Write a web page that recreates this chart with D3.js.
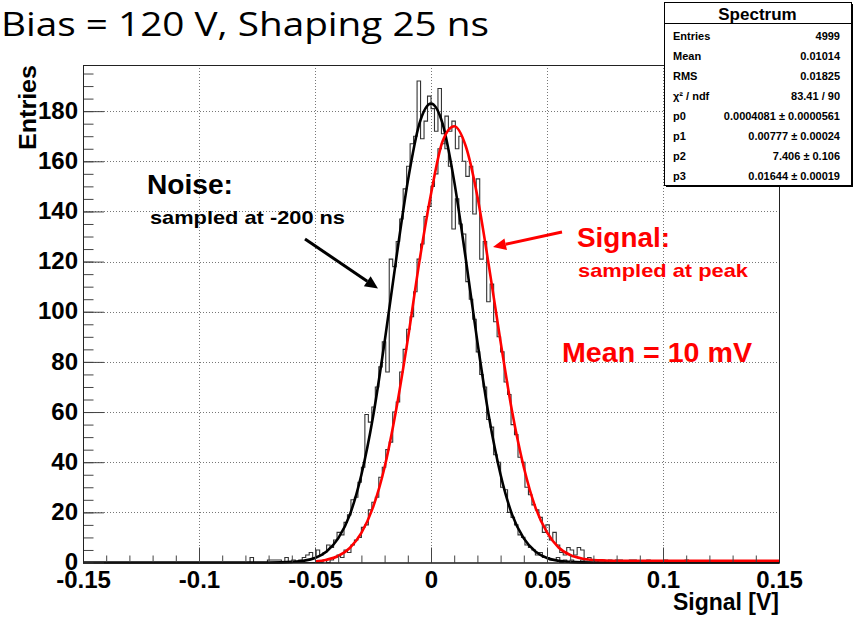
<!DOCTYPE html>
<html>
<head>
<meta charset="utf-8">
<script src="https://cdn.jsdelivr.net/npm/d3@7/dist/d3.min.js"></script>
<style>
  body { margin: 0; background: #fff; }
  svg { display: block; font-family: "Liberation Sans", Arial, sans-serif; }
</style>
</head>
<body>
<div id="chart"></div>
<script>
// binning of both histograms (200 bins over -0.15 .. 0.15)
const binLow = -0.15;
const binWidth = 0.0015;
const nBins = 200;

// noise histogram (sampled at -200 ns), counts from bin 46 on
const noiseStartBin = 46;
const noiseCounts = [
  0, 0, 2, 0,
  0, 0, 0, 1, 1, 1, 1, 0, 2, 0,
  1, 0, 1, 2, 3, 4, 2, 5, 3, 4,
  7, 6, 9, 12, 11, 16, 19, 25, 26, 32,
  38, 59, 56, 62, 70, 78, 88, 76, 121, 118,
  128, 137, 149, 158, 167, 170, 192, 169, 176, 186,
  181, 172, 189, 171, 165, 158, 133, 145, 135, 131,
  112, 105, 97, 84, 75, 70, 57, 54, 43, 40,
  30, 29, 20, 18, 15, 11, 10, 7, 6, 5,
  3, 4, 2, 2, 1, 1, 2, 0, 1, 0,
  1, 0, 0, 1, 0, 0, 0, 0, 0, 0
];

// signal histogram (sampled at peak), counts from bin 66 on
const signalStartBin = 66;
const signalCounts = [
  0, 0, 0, 1, 0,
  1, 2, 3, 2, 5, 4, 7, 9, 10, 14,
  15, 21, 24, 26, 34, 38, 45, 48, 60, 64,
  76, 85, 93, 98, 108, 121, 127, 138, 142, 150,
  155, 165, 167, 178, 172, 176, 165, 170, 160, 154,
  158, 139, 153, 121, 128, 104, 111, 96, 90, 84,
  72, 67, 55, 51, 42, 40, 30, 27, 23, 21,
  18, 12, 15, 9, 12, 7, 4, 3, 6, 5,
  3, 6, 5, 1, 2, 1, 0, 1, 1, 0,
  1, 0, 1, 1, 0, 0, 1, 1, 0, 0,
  0, 1, 0, 0, 0, 0, 1, 0, 0, 0,
  0, 0, 1, 0, 0
];

// fit curves
const noiseFitX = [-0.15, -0.1, -0.075, -0.07, -0.065, -0.06, -0.055, -0.05, -0.045, -0.04, -0.035, -0.03, -0.025,
  -0.02, -0.015, -0.01, -0.005, 0, 0.005, 0.01, 0.015, 0.02, 0.025, 0.03, 0.035, 0.04, 0.045, 0.05,
  0.055, 0.06, 0.065, 0.07, 0.075, 0.1, 0.15];
const noiseFitY = [0, 0, 0, 0, 0.05, 0.25, 0.7, 1.8, 4.4, 9.6, 19, 35, 58,
  88, 121, 152, 175, 183, 175, 152, 121, 88, 58, 35, 19, 9.6, 4.4, 1.8,
  0.7, 0.25, 0.05, 0, 0, 0, 0];

const signalFitX = [-0.05, -0.045, -0.04, -0.035, -0.03, -0.025, -0.02, -0.015, -0.01, -0.005, 0,
  0.005, 0.01, 0.015, 0.02, 0.025, 0.03, 0.035, 0.04, 0.045, 0.05, 0.055, 0.06, 0.065, 0.07,
  0.075, 0.08, 0.1, 0.15];
const signalFitY = [0.4, 1.1, 2.6, 5.8, 11.8, 22, 38, 61, 89, 120, 147,
  168, 174, 166, 146, 118, 88, 60, 38, 22, 12, 6, 3, 1.6, 1.0,
  0.8, 0.7, 0.7, 0.7];

// axes
const xTicks = [-0.15, -0.1, -0.05, 0, 0.05, 0.1, 0.15];
const xTickLabels = ["-0.15", "-0.1", "-0.05", "0", "0.05", "0.1", "0.15"];
const yTicks = [0, 20, 40, 60, 80, 100, 120, 140, 160, 180];

// stat box
const statLabels = ["Entries", "Mean", "RMS", "\u03c7\u00b2 / ndf", "p0", "p1", "p2", "p3"];
const statValues = ["4999", "0.01014", "0.01825", "83.41 / 90", "0.0004081 \u00b1 0.0000561",
  "0.00777 \u00b1 0.00024", "7.406 \u00b1 0.106", "0.01644 \u00b1 0.00019"];

const drawChart = () => {
  let dimensions = {
    width: 857,
    height: 617,
    margin: { top: 65, right: 78, bottom: 54.5, left: 83 },
  };
  const plotLeft = dimensions.margin.left;
  const plotRight = dimensions.width - dimensions.margin.right;
  const plotTop = dimensions.margin.top;
  const plotBottom = dimensions.height - dimensions.margin.bottom;

  const svg = d3
    .select("#chart")
    .append("svg")
    .attr("width", dimensions.width)
    .attr("height", dimensions.height);

  svg.append("rect").attr("width", dimensions.width).attr("height", dimensions.height).attr("fill", "#fff");

  // Scales
  const xScale = d3.scaleLinear().domain([-0.15, 0.15]).range([plotLeft, plotRight]);
  const yScale = d3.scaleLinear().domain([0, 198.4]).range([plotBottom, plotTop]);

  // grid
  const grid = svg.append("g").attr("stroke", "#777").attr("stroke-width", 1).attr("stroke-dasharray", "1,2");
  grid
    .selectAll(".gx")
    .data(xTicks.slice(1, -1))
    .join("line")
    .attr("x1", (d) => Math.round(xScale(d)) + 0.5)
    .attr("x2", (d) => Math.round(xScale(d)) + 0.5)
    .attr("y1", plotTop)
    .attr("y2", plotBottom);
  grid
    .selectAll(".gy")
    .data(yTicks.slice(1))
    .join("line")
    .attr("x1", plotLeft)
    .attr("x2", plotRight)
    .attr("y1", (d) => Math.round(yScale(d)) + 0.5)
    .attr("y2", (d) => Math.round(yScale(d)) + 0.5);

  // histograms
  const toBins = (start, counts) => {
    const full = d3.range(nBins).map((i) => {
      const j = i - start;
      return j >= 0 && j < counts.length ? counts[j] : 0;
    });
    const pts = full.map((c, i) => [binLow + i * binWidth, c]);
    pts.push([binLow + nBins * binWidth, full[nBins - 1]]);
    return pts;
  };
  const stepLine = d3
    .line()
    .x((d) => xScale(d[0]))
    .y((d) => yScale(d[1]))
    .curve(d3.curveStepAfter);

  [toBins(noiseStartBin, noiseCounts), toBins(signalStartBin, signalCounts)].forEach((pts) => {
    svg
      .append("path")
      .attr("d", stepLine(pts))
      .attr("fill", "none")
      .attr("stroke", "#333")
      .attr("stroke-width", 1.1);
  });

  // fits
  const fitLine = d3
    .line()
    .x((d) => xScale(d[0]))
    .y((d) => yScale(d[1]))
    .curve(d3.curveMonotoneX);
  svg
    .append("path")
    .attr("d", fitLine(noiseFitX.map((x, i) => [x, noiseFitY[i]])))
    .attr("fill", "none")
    .attr("stroke", "#000")
    .attr("stroke-width", 2.6);
  svg
    .append("path")
    .attr("d", fitLine(signalFitX.map((x, i) => [x, signalFitY[i]])))
    .attr("fill", "none")
    .attr("stroke", "#f00")
    .attr("stroke-width", 2.6);

  // Axes
  const xMinor = d3.range(-0.15, 0.1501, 0.01).map((d) => +d.toFixed(3));
  const yMinor = d3.range(0, 198, 5);

  svg
    .append("g")
    .attr("transform", `translate(0,${plotBottom})`)
    .call(d3.axisBottom(xScale).tickValues(xMinor).tickSize(-7).tickFormat(""))
    .call((g) => g.select(".domain").remove());
  const xAxisGroup = svg
    .append("g")
    .attr("transform", `translate(0,${plotBottom})`)
    .call(
      d3
        .axisBottom(xScale)
        .tickValues(xTicks)
        .tickSizeInner(-15)
        .tickSizeOuter(0)
        .tickFormat((d, i) => xTickLabels[i])
    );
  xAxisGroup.selectAll(".tick text").attr("y", 8).attr("dy", "0.71em");

  svg
    .append("g")
    .attr("transform", `translate(${plotLeft},0)`)
    .call(d3.axisLeft(yScale).tickValues(yMinor).tickSize(-10.5).tickFormat(""))
    .call((g) => g.select(".domain").remove());
  const yAxisGroup = svg
    .append("g")
    .attr("transform", `translate(${plotLeft},0)`)
    .call(d3.axisLeft(yScale).tickValues(yTicks).tickSizeInner(-21).tickSizeOuter(0));
  yAxisGroup.selectAll(".tick text").attr("x", -5).attr("dy", "0.3em");

  svg.selectAll(".tick line").attr("stroke", "#444");
  svg
    .selectAll(".tick text")
    .attr("font-family", "Liberation Sans, Arial, sans-serif")
    .attr("font-weight", "bold")
    .attr("font-size", 24)
    .attr("fill", "#000");

  // frame
  svg
    .append("rect")
    .attr("x", plotLeft + 0.5)
    .attr("y", plotTop + 0.5)
    .attr("width", plotRight - plotLeft)
    .attr("height", plotBottom - plotTop)
    .attr("fill", "none")
    .attr("stroke", "#222")
    .attr("stroke-width", 1);

  // axis titles
  svg
    .append("text")
    .attr("x", plotRight)
    .attr("y", 610)
    .attr("text-anchor", "end")
    .attr("font-weight", "bold")
    .attr("font-size", 23)
    .text("Signal [V]");
  svg
    .append("text")
    .attr("transform", `translate(36,${plotTop}) rotate(-90)`)
    .attr("text-anchor", "end")
    .attr("font-weight", "bold")
    .attr("font-size", 23)
    .attr("textLength", 85)
    .attr("lengthAdjust", "spacingAndGlyphs")
    .text("Entries");

  // title
  svg
    .append("text")
    .attr("x", 1)
    .attr("y", 36)
    .attr("font-family", "'Open Sans', Lato, sans-serif")
    .attr("font-size", 33)
    .attr("textLength", 488)
    .attr("lengthAdjust", "spacingAndGlyphs")
    .text("Bias = 120 V, Shaping 25 ns");

  // stat box
  const box = { x: 664, y: 2, w: 187, h: 183, head: 21 };
  const stats = svg.append("g");
  stats
    .append("rect")
    .attr("x", box.x + 2)
    .attr("y", box.y + 2)
    .attr("width", box.w)
    .attr("height", box.h)
    .attr("fill", "#000");
  stats
    .append("rect")
    .attr("x", box.x + 0.5)
    .attr("y", box.y + 0.5)
    .attr("width", box.w)
    .attr("height", box.h)
    .attr("fill", "#fff")
    .attr("stroke", "#000");
  stats
    .append("line")
    .attr("x1", box.x)
    .attr("x2", box.x + box.w)
    .attr("y1", box.y + box.head + 0.5)
    .attr("y2", box.y + box.head + 0.5)
    .attr("stroke", "#000");
  stats
    .append("text")
    .attr("x", box.x + box.w / 2)
    .attr("y", box.y + 18)
    .attr("text-anchor", "middle")
    .attr("font-weight", "bold")
    .attr("font-size", 17)
    .text("Spectrum");
  stats
    .selectAll(".sl")
    .data(statLabels)
    .join("text")
    .attr("x", box.x + 9)
    .attr("y", (d, i) => box.y + 38 + i * 20)
    .attr("font-weight", "bold")
    .attr("font-size", 11)
    .text((d) => d);
  stats
    .selectAll(".sv")
    .data(statValues)
    .join("text")
    .attr("x", box.x + box.w - 11)
    .attr("y", (d, i) => box.y + 38 + i * 20)
    .attr("text-anchor", "end")
    .attr("font-weight", "bold")
    .attr("font-size", 11)
    .text((d) => d);

  // annotations
  const note = svg.append("g").attr("font-weight", "bold");
  const label = (x, y, size, width, color, txt) =>
    note
      .append("text")
      .attr("x", x)
      .attr("y", y)
      .attr("font-size", size)
      .attr("fill", color)
      .attr("textLength", width)
      .attr("lengthAdjust", "spacingAndGlyphs")
      .text(txt);
  label(147, 194, 27, 86, "#000", "Noise:");
  label(150, 224, 19, 195, "#000", "sampled at -200 ns");
  label(577, 247, 27, 93, "#f00", "Signal:");
  label(578, 277, 19, 170, "#f00", "sampled at peak");
  label(562, 362, 27, 190, "#f00", "Mean = 10 mV");

  const arrow = (x1, y1, x2, y2, color) => {
    const a = Math.atan2(y2 - y1, x2 - x1);
    const len = 13, half = 6;
    const bx = x2 - len * Math.cos(a), by = y2 - len * Math.sin(a);
    note
      .append("line")
      .attr("x1", x1)
      .attr("y1", y1)
      .attr("x2", bx)
      .attr("y2", by)
      .attr("stroke", color)
      .attr("stroke-width", 3);
    note
      .append("path")
      .attr(
        "d",
        `M${x2},${y2}L${bx - half * Math.sin(a)},${by + half * Math.cos(a)}L${bx + half * Math.sin(a)},${by - half * Math.cos(a)}Z`
      )
      .attr("fill", color);
  };
  arrow(305, 239, 378, 288.5, "#000");
  arrow(562, 232, 493, 247, "#f00");
};

drawChart();
</script>
</body>
</html>
